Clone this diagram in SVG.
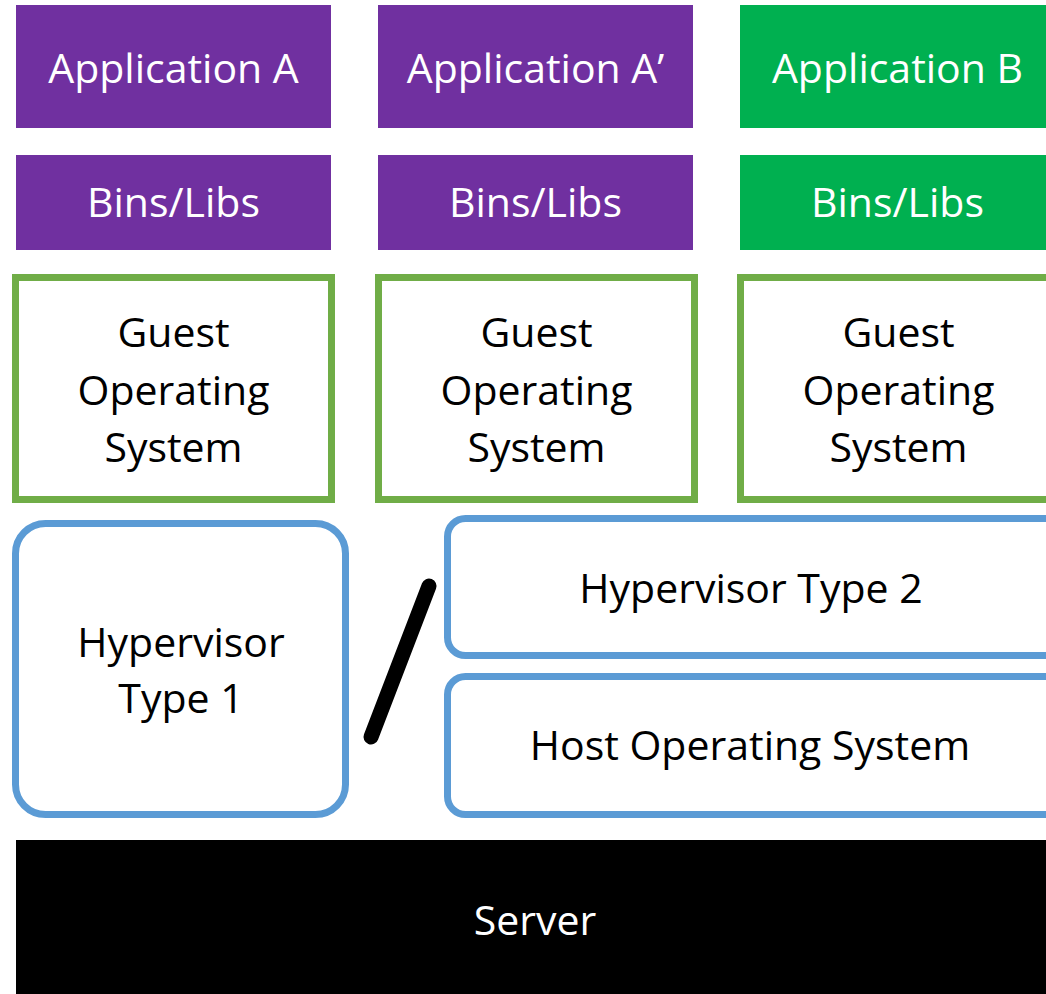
<svg xmlns="http://www.w3.org/2000/svg" width="1046" height="994" viewBox="0 0 1046 994">
  <style>
    text { font-family: "Open Sans", "Noto Sans", sans-serif; font-size: 41px; text-anchor: middle; }
    .light { fill: #ffffff; }
    .dark { fill: #000000; }
    .purple { fill: #7030A0; }
    .green { fill: #00B050; }
    .guest { fill: #ffffff; stroke: #70AD47; stroke-width: 7; }
    .hyp { fill: #ffffff; stroke: #5B9BD5; stroke-width: 7; }
  </style>
  <rect width="1046" height="994" fill="#ffffff"/>

  <!-- applications -->
  <g id="app-a">
    <rect class="purple" x="16" y="5" width="315" height="123"/>
    <text class="light" x="173.5" y="83" font-size="43">Application A</text>
  </g>
  <g id="app-a-prime">
    <rect class="purple" x="378" y="5" width="315" height="123"/>
    <text class="light" x="535.5" y="83" font-size="43">Application A’</text>
  </g>
  <g id="app-b">
    <rect class="green" x="740" y="5" width="315" height="123"/>
    <text class="light" x="897.5" y="83" font-size="43">Application B</text>
  </g>

  <!-- binaries / libraries -->
  <g id="libs-a">
    <rect class="purple" x="16" y="155" width="315" height="95"/>
    <text class="light" x="173.5" y="217" font-size="40">Bins/Libs</text>
  </g>
  <g id="libs-a-prime">
    <rect class="purple" x="378" y="155" width="315" height="95"/>
    <text class="light" x="535.5" y="217" font-size="40">Bins/Libs</text>
  </g>
  <g id="libs-b">
    <rect class="green" x="740" y="155" width="315" height="95"/>
    <text class="light" x="897.5" y="217" font-size="40">Bins/Libs</text>
  </g>

  <!-- guest operating systems -->
  <g id="guest-os-1">
    <rect class="guest" x="15.5" y="277.5" width="316" height="222"/>
    <text class="dark" x="173.5" y="347">Guest</text>
    <text class="dark" x="173.5" y="405">Operating</text>
    <text class="dark" x="173.5" y="462">System</text>
  </g>
  <g id="guest-os-2">
    <rect class="guest" x="378.5" y="277.5" width="316" height="222"/>
    <text class="dark" x="536.5" y="347">Guest</text>
    <text class="dark" x="536.5" y="405">Operating</text>
    <text class="dark" x="536.5" y="462">System</text>
  </g>
  <g id="guest-os-3">
    <rect class="guest" x="740.5" y="277.5" width="316" height="222"/>
    <text class="dark" x="898.5" y="347">Guest</text>
    <text class="dark" x="898.5" y="405">Operating</text>
    <text class="dark" x="898.5" y="462">System</text>
  </g>

  <!-- hypervisors -->
  <g id="hypervisor-type-1">
    <rect class="hyp" x="15.5" y="523.5" width="330" height="291" rx="30" ry="30"/>
    <text class="dark" x="181" y="657">Hypervisor</text>
    <text class="dark" x="181" y="713">Type 1</text>
  </g>
  <g id="hypervisor-type-2">
    <rect class="hyp" x="447.5" y="518.5" width="640" height="137" rx="18" ry="18"/>
    <text class="dark" x="751" y="603">Hypervisor Type 2</text>
  </g>
  <g id="host-os">
    <rect class="hyp" x="447.5" y="676.5" width="640" height="138" rx="18" ry="18"/>
    <text class="dark" x="750" y="760">Host Operating System</text>
  </g>

  <!-- server -->
  <g id="server">
    <rect x="16" y="840" width="1030" height="154" fill="#000000"/>
    <text class="light" x="535" y="935">Server</text>
  </g>

  <!-- "or" separator between the two hypervisor types -->
  <g id="connectors">
    <line x1="429" y1="586" x2="371" y2="737" stroke="#000000" stroke-width="15" stroke-linecap="round"/>
  </g>
</svg>
